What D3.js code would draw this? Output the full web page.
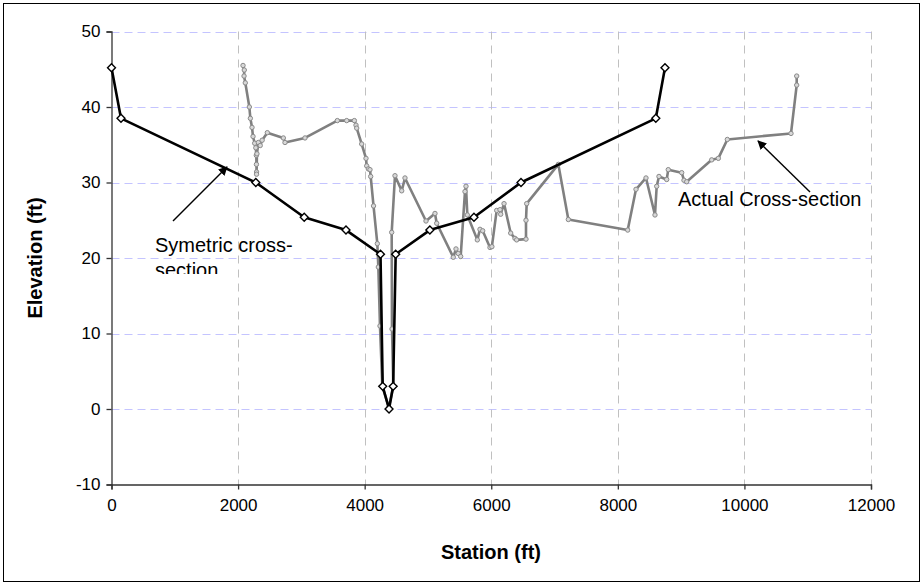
<!DOCTYPE html>
<html>
<head>
<meta charset="utf-8">
<script src="https://cdn.jsdelivr.net/npm/d3@7/dist/d3.min.js"></script>
<style>
  html, body { margin: 0; padding: 0; background: #fff; }
  svg { display: block; font-family: "Liberation Sans", Arial, sans-serif; }
</style>
</head>
<body>
<svg id="chart" width="924" height="586"></svg>
<script>
// Symmetric (design) cross-section
const symStation = [0, 150, 2280, 3045, 3705, 4250, 4285, 4385, 4450, 4490, 5030, 5727, 6470, 8600, 8745];
const symElev    = [45.2, 38.5, 30.0, 25.4, 23.7, 20.5, 3.0, 0.0, 3.0, 20.5, 23.7, 25.4, 30.0, 38.5, 45.2];

// Surveyed (actual) cross-section
const actStation = [2078, 2098, 2094, 2114, 2178, 2194, 2220, 2236, 2262, 2280, 2288, 2290, 2292, 2292, 2298, 2320, 2350, 2380,
  2462, 2715, 2741, 3057, 3568, 3716, 3837, 3863, 3874, 3953, 4021, 4032, 4058, 4084, 4095, 4140, 4200, 4216, 4242, 4279,
  4382, 4453, 4432, 4427, 4479, 4585, 4637, 4969, 5111, 5138, 5400, 5443, 5479, 5517, 5585, 5601, 5622, 5780, 5822, 5865,
  5980, 6010, 6086, 6138, 6149, 6202, 6307, 6375, 6401, 6549, 6549, 6560, 7060, 7218, 8156, 8287, 8445, 8587, 8614, 8650,
  8772, 8797, 9009, 9045, 9088, 9483, 9588, 9730, 10736, 10826, 10826];
const actElev = [45.5, 44.9, 44.1, 43.2, 40.0, 38.5, 37.3, 36.1, 35.2, 34.6, 33.6, 32.4, 31.4, 31.1, 33.8, 35.3, 34.9, 35.6,
  36.6, 35.9, 35.3, 35.9, 38.2, 38.2, 38.2, 37.6, 37.2, 35.1, 33.2, 32.2, 31.8, 31.7, 30.8, 26.9, 21.9, 18.8, 11.0, 3.0,
  0.2, 3.0, 10.6, 23.4, 30.9, 28.9, 30.6, 24.9, 25.9, 24.6, 20.1, 21.2, 20.6, 20.2, 28.8, 29.5, 25.7, 22.4, 23.8, 23.6,
  21.4, 21.5, 26.3, 26.4, 25.8, 27.2, 23.3, 22.6, 22.4, 22.5, 25.0, 27.2, 32.4, 25.1, 23.7, 29.1, 30.6, 25.7, 29.5, 30.8,
  30.4, 31.7, 31.3, 30.3, 30.1, 33.0, 33.2, 35.7, 36.5, 42.9, 44.1];

const stationTicks = [0, 2000, 4000, 6000, 8000, 10000, 12000];
const elevTicks = [-10, 0, 10, 20, 30, 40, 50];

const svg = d3.select("#chart");
const plot = { left: 111.5, right: 871, top: 31.5, bottom: 484.5 };

const x = d3.scaleLinear().domain([0, 12000]).range([plot.left, plot.right]);
const y = d3.scaleLinear().domain([-10, 50]).range([plot.bottom, plot.top]);

// outer frame
svg.append("rect")
  .attr("x", 3.5).attr("y", 3.5).attr("width", 916).attr("height", 578)
  .attr("fill", "#fff").attr("stroke", "#000").attr("stroke-width", 1);

// gridlines
const grid = svg.append("g");
grid.selectAll("line.h").data(elevTicks.filter(d => d > -10)).join("line")
  .attr("x1", plot.left).attr("x2", plot.right)
  .attr("y1", d => Math.round(y(d)) + 0.5).attr("y2", d => Math.round(y(d)) + 0.5)
  .attr("stroke", "#c4c4ff").attr("stroke-width", 1).attr("stroke-dasharray", "8,5");
grid.selectAll("line.v").data(stationTicks.filter(d => d > 0)).join("line")
  .attr("y1", plot.top).attr("y2", plot.bottom)
  .attr("x1", d => Math.round(x(d)) + 0.5).attr("x2", d => Math.round(x(d)) + 0.5)
  .attr("stroke", "#c0c0c0").attr("stroke-width", 1).attr("stroke-dasharray", "8,6");

// axes
const xAxis = svg.append("g")
  .attr("transform", `translate(0,${plot.bottom})`)
  .call(d3.axisBottom(x).tickValues(stationTicks).tickFormat(d => String(d)).tickSize(5).tickPadding(9));
const yAxis = svg.append("g")
  .attr("transform", `translate(${plot.left},0)`)
  .call(d3.axisLeft(y).tickValues(elevTicks).tickFormat(d => String(d)).tickSize(5).tickPadding(6));
[xAxis, yAxis].forEach(a => {
  a.select(".domain").attr("stroke", "#333").attr("stroke-width", 1.3);
  a.selectAll(".tick line").attr("stroke", "#333").attr("stroke-width", 1.3);
  a.selectAll(".tick text").attr("fill", "#000").attr("font-size", 17)
    .attr("font-family", "'Liberation Sans', Arial, sans-serif");
});

// axis titles
svg.append("text").attr("x", 491).attr("y", 559).attr("text-anchor", "middle")
  .attr("font-size", 20).attr("font-weight", "bold").text("Station (ft)");
svg.append("text").attr("transform", "translate(42,258) rotate(-90)").attr("text-anchor", "middle")
  .attr("font-size", 20).attr("font-weight", "bold").text("Elevation (ft)");

// series
const line = d3.line().x(d => x(d[0])).y(d => y(d[1]));
const actPts = actStation.map((s, i) => [s, actElev[i]]);
const symPts = symStation.map((s, i) => [s, symElev[i]]);

svg.append("path").datum(actPts).attr("d", line)
  .attr("fill", "none").attr("stroke", "#808080").attr("stroke-width", 2.6).attr("stroke-linejoin", "round");
svg.append("g").selectAll("circle").data(actPts).join("circle")
  .attr("cx", d => x(d[0])).attr("cy", d => y(d[1])).attr("r", 2.2)
  .attr("fill", "#d8d8d8").attr("stroke", "#8a8a8a").attr("stroke-width", 1);

svg.append("path").datum(symPts).attr("d", line)
  .attr("fill", "none").attr("stroke", "#000").attr("stroke-width", 2.6).attr("stroke-linejoin", "round");
svg.append("g").selectAll("path").data(symPts).join("path")
  .attr("d", d3.symbol(d3.symbolDiamond2, 40))
  .attr("transform", d => `translate(${x(d[0])},${y(d[1])})`)
  .attr("fill", "#fff").attr("stroke", "#000").attr("stroke-width", 1.4);

// annotations
const defs = svg.append("defs");
defs.append("marker").attr("id", "arrow").attr("viewBox", "0 0 10 10")
  .attr("refX", 9).attr("refY", 5).attr("markerWidth", 9).attr("markerHeight", 9)
  .attr("markerUnits", "userSpaceOnUse").attr("orient", "auto")
  .append("path").attr("d", "M0,0 L10,5 L0,10 z").attr("fill", "#000");
defs.append("clipPath").attr("id", "noteClip")
  .append("rect").attr("x", 140).attr("y", 225).attr("width", 200).attr("height", 49);

svg.append("line").attr("x1", 173).attr("y1", 221).attr("x2", 227).attr("y2", 167)
  .attr("stroke", "#000").attr("stroke-width", 1.4).attr("marker-end", "url(#arrow)");
const note = svg.append("g").attr("clip-path", "url(#noteClip)");
note.append("text").attr("x", 155).attr("y", 252).attr("font-size", 20).text("Symetric cross-");
note.append("text").attr("x", 155).attr("y", 277).attr("font-size", 20).text("section");

svg.append("line").attr("x1", 810).attr("y1", 192).attr("x2", 758).attr("y2", 141)
  .attr("stroke", "#000").attr("stroke-width", 1.4).attr("marker-end", "url(#arrow)");
svg.append("text").attr("x", 678).attr("y", 206).attr("font-size", 20).text("Actual Cross-section");
</script>
</body>
</html>
